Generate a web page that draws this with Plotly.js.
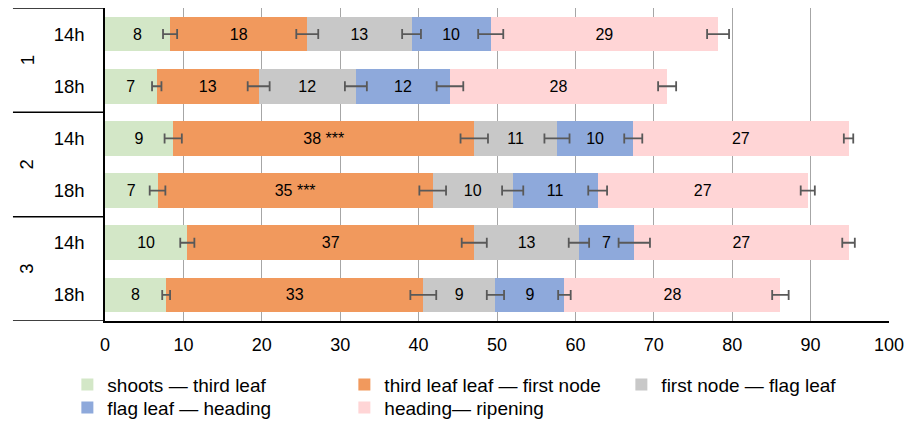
<!DOCTYPE html>
<html>
<head>
<meta charset="utf-8">
<script src="https://cdn.plot.ly/plotly-3.0.1.min.js"></script>
<style>html,body{margin:0;padding:0;background:#fff;}#chart{width:917px;height:422px;}</style>
</head>
<body>
<div id="chart"></div>
<script>
// Categories (top to bottom)
const groups = ["1", "1", "2", "2", "3", "3"];
const photoperiods = ["14h", "18h", "14h", "18h", "14h", "18h"];

// Series names
const seriesNames = [
  "shoots — third leaf",
  "third leaf leaf — first node",
  "first node — flag leaf",
  "flag leaf — heading",
  "heading— ripening"
];

// Duration of each phase (days)
const shootsThirdLeaf   = [8.3, 6.6, 8.7, 6.7, 10.5, 7.8];
const thirdLeafFirstNode = [17.5, 13.0, 38.4, 35.1, 36.6, 32.8];
const firstNodeFlagLeaf = [13.3, 12.4, 10.55, 10.2, 13.35, 9.2];
const flagLeafHeading   = [10.1, 12.0, 9.73, 10.84, 7.06, 8.8];
const headingRipening   = [29.0, 27.7, 27.46, 26.8, 27.33, 27.55];

// Error values
const errShootsThirdLeaf   = [0.9, 0.6, 1.1, 1.0, 0.9, 0.5];
const errThirdLeafFirstNode = [1.4, 1.4, 1.75, 1.7, 1.6, 1.65];
const errFirstNodeFlagLeaf = [1.2, 1.4, 1.6, 1.35, 1.3, 1.1];
const errFlagLeafHeading   = [1.6, 1.7, 1.15, 1.2, 2.0, 0.8];
const errHeadingRipening   = [1.4, 1.15, 0.6, 0.9, 0.8, 1.05];

// Labels shown inside segments
const lblShootsThirdLeaf   = ["8", "7", "9", "7", "10", "8"];
const lblThirdLeafFirstNode = ["18", "13", "38 ***", "35 ***", "37", "33"];
const lblFirstNodeFlagLeaf = ["13", "12", "11", "10", "13", "9"];
const lblFlagLeafHeading   = ["10", "12", "10", "11", "7", "9"];
const lblHeadingRipening   = ["29", "28", "27", "27", "27", "28"];

const xTicks = [0, 10, 20, 30, 40, 50, 60, 70, 80, 90, 100];

const colors = ["#D3E7C7", "#F1995D", "#C8C8C8", "#8EA9DB", "#FFD5D6"];
// legend row of each series (first row holds three entries)
const legendRow = ["legend", "legend", "legend", "legend2", "legend2"];

const FONT = "Liberation Sans, Arial, sans-serif";

const cats = groups.map((g, i) => g + "|" + photoperiods[i]);
const values = [shootsThirdLeaf, thirdLeafFirstNode, firstNodeFlagLeaf, flagLeafHeading, headingRipening];
const errs = [errShootsThirdLeaf, errThirdLeafFirstNode, errFirstNodeFlagLeaf, errFlagLeafHeading, errHeadingRipening];
const labels = [lblShootsThirdLeaf, lblThirdLeafFirstNode, lblFirstNodeFlagLeaf, lblFlagLeafHeading, lblHeadingRipening];

const barTraces = values.map((v, k) => ({
  type: "bar",
  orientation: "h",
  name: seriesNames[k],
  legend: legendRow[k],
  y: cats,
  x: v,
  text: labels[k],
  textposition: "inside",
  insidetextanchor: "middle",
  textangle: 0,
  constraintext: "none",
  insidetextfont: {family: FONT, size: 16, color: "#000"},
  marker: {color: colors[k], line: {width: 0}},
  hoverinfo: "x+name"
}));

// Error bars at the end of each stacked segment, drawn above all bars
let running = cats.map(() => 0);
const errTraces = values.map((v, k) => {
  running = running.map((r, i) => r + v[i]);
  return {
    type: "scatter",
    mode: "markers",
    x: running.slice(),
    y: cats,
    marker: {size: 1, opacity: 0},
    error_x: {type: "data", array: errs[k], visible: true, color: "#595959", thickness: 1.8, width: 5},
    showlegend: false,
    hoverinfo: "skip",
    cliponaxis: false
  };
});

// Group labels and dividers
const uniqueGroups = [...new Set(groups)];
const annotations = uniqueGroups.map(g => {
  const idx = groups.map((x, i) => x === g ? i : -1).filter(i => i >= 0);
  const mid = (idx[0] + idx[idx.length - 1]) / 2;
  return {
    text: g, xref: "paper", yref: "y", x: -0.0995, y: mid,
    showarrow: false, textangle: -90,
    font: {family: FONT, size: 18.5, color: "#000"},
    xanchor: "center", yanchor: "middle"
  };
});
const boundaries = [-0.5];
uniqueGroups.forEach(g => {
  const idx = groups.map((x, i) => x === g ? i : -1).filter(i => i >= 0);
  boundaries.push(idx[idx.length - 1] + 0.5);
});
const shapes = boundaries.map(b => ({
  type: "line", xref: "paper", yref: "y", x0: -0.1174, x1: 0, y0: b, y1: b,
  line: {color: "#000", width: 1.5}
}));

const legendBase = {
  orientation: "h",
  x: -0.048,
  xanchor: "left",
  yanchor: "top",
  entrywidth: 232,
  entrywidthmode: "pixels",
  traceorder: "normal",
  bgcolor: "rgba(0,0,0,0)",
  font: {family: FONT, size: 19, color: "#000"},
  itemclick: false,
  itemdoubleclick: false
};

const layout = {
  width: 917,
  height: 422,
  margin: {l: 105, r: 28, t: 8, b: 101, pad: 0, autoexpand: false},
  paper_bgcolor: "#fff",
  plot_bgcolor: "#fff",
  barmode: "stack",
  bargap: 0.333,
  showlegend: true,
  font: {family: FONT, color: "#000"},
  xaxis: {
    range: [0, 100],
    tickvals: xTicks,
    ticktext: xTicks.map(String),
    showgrid: true,
    gridcolor: "#A6A6A6",
    gridwidth: 1.3,
    zeroline: false,
    showline: true,
    linecolor: "#000",
    linewidth: 1.5,
    ticks: "",
    ticklabelstandoff: 7,
    tickfont: {family: FONT, size: 18, color: "#000"},
    automargin: false,
    fixedrange: true
  },
  yaxis: {
    type: "category",
    categoryorder: "array",
    categoryarray: cats,
    tickvals: cats,
    ticktext: photoperiods,
    range: [5.5, -0.5],
    showgrid: false,
    zeroline: false,
    showline: true,
    linecolor: "#000",
    linewidth: 1.5,
    ticks: "",
    ticklabelstandoff: 15,
    tickfont: {family: FONT, size: 18.5, color: "#000"},
    automargin: false,
    fixedrange: true
  },
  legend: Object.assign({}, legendBase, {y: -0.1426}),
  legend2: Object.assign({}, legendBase, {y: -0.2162}),
  annotations: annotations,
  shapes: shapes
};

Plotly.newPlot("chart", barTraces.concat(errTraces), layout, {displayModeBar: false, staticPlot: false});
</script>
</body>
</html>
